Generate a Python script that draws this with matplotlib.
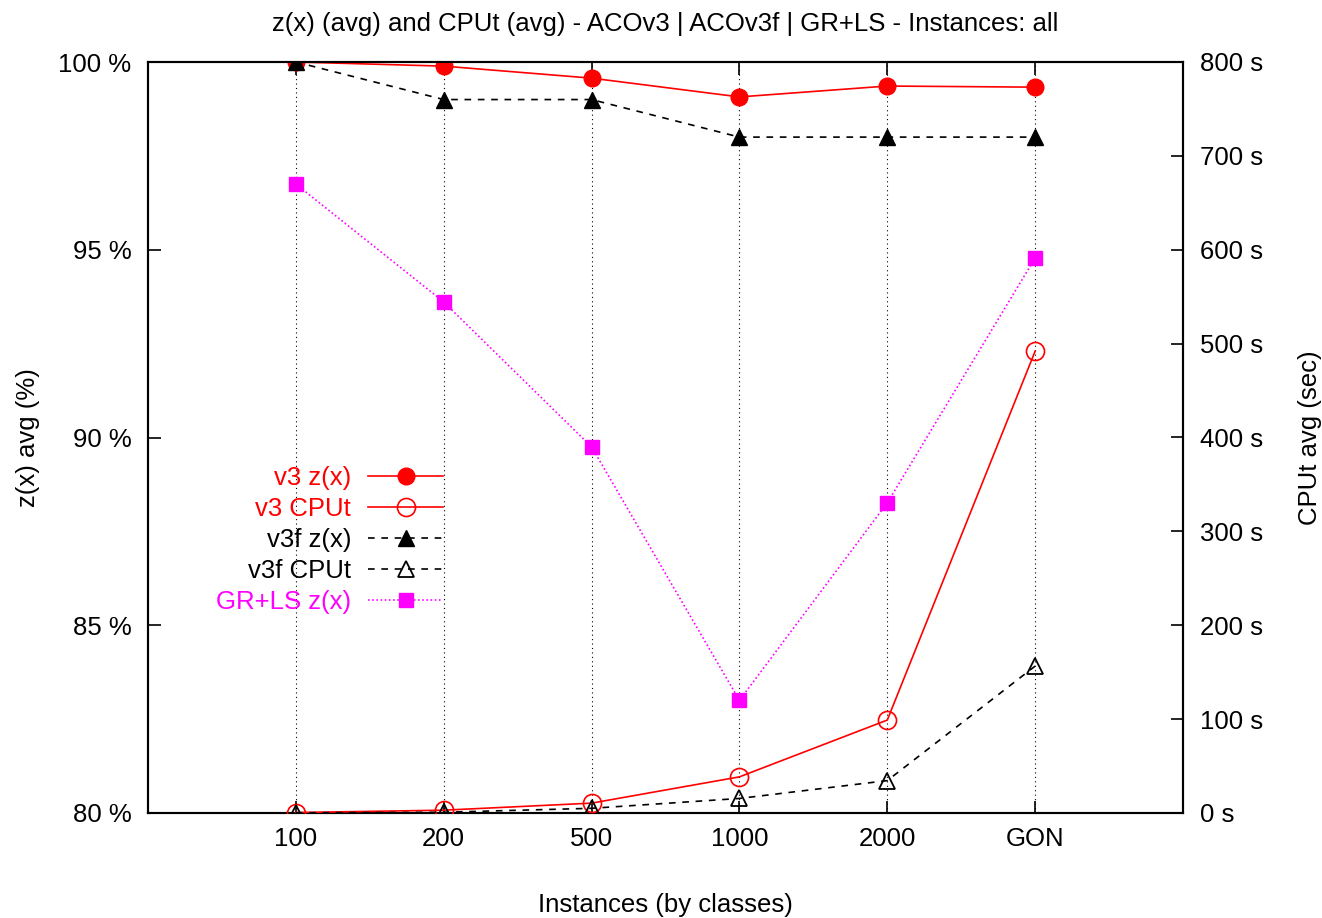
import matplotlib
matplotlib.use("Agg")
import matplotlib.pyplot as plt
from matplotlib.ticker import FuncFormatter

plt.rcParams['font.family'] = ['Liberation Sans', 'DejaVu Sans']

categories = ["100", "200", "500", "1000", "2000", "GON"]
v3_z = [100.0, 99.89, 99.57, 99.07, 99.36, 99.33]
v3f_z = [100.0, 99.0, 99.0, 98.0, 98.0, 98.0]
grls_z = [96.75, 93.61, 89.75, 83.0, 88.26, 94.78]
v3_cpu = [0.5, 3.0, 10.5, 38.5, 99.0, 492.0]
v3f_cpu = [0.2, 0.8, 5.0, 15.5, 34.5, 156.5]

left_ticks = [80, 85, 90, 95, 100]
right_ticks = [0, 100, 200, 300, 400, 500, 600, 700, 800]

fs = 18.5
fig = plt.figure(figsize=(13.22, 9.18), dpi=100)
ax = fig.add_axes([148/1322, 1-813/918, (1183-148)/1322, (813-62)/918])
ax2 = ax.twinx()

xs = list(range(len(categories)))

for x in xs:
    ax.axvline(x, color='black', linestyle=(0, (1, 3)), linewidth=0.8, zorder=0)

dash = (0, (4, 4))
l1, = ax.plot(xs, v3_z, color='red', linewidth=1.2, marker='o', markersize=12,
              markerfacecolor='red', markeredgecolor='red', label='v3 z(x)', zorder=3)
l3, = ax.plot(xs, v3f_z, color='black', linewidth=1.2, linestyle=dash, marker='^',
              markersize=12, markerfacecolor='black', markeredgecolor='black',
              label='v3f z(x)', zorder=3)
l5, = ax.plot(xs, grls_z, color='magenta', linewidth=1.2, linestyle=(0, (1, 1.5)), marker='s',
              markersize=10, markerfacecolor='magenta', markeredgecolor='magenta',
              label='GR+LS z(x)', zorder=3)
l2, = ax2.plot(xs, v3_cpu, color='red', linewidth=1.2, marker='o', markersize=13,
               markerfacecolor='none', markeredgecolor='red', markeredgewidth=1.2,
               label='v3 CPUt', zorder=3)
l4, = ax2.plot(xs, v3f_cpu, color='black', linewidth=1.2, linestyle=dash, marker='^',
               markersize=12, markerfacecolor='none', markeredgecolor='black',
               markeredgewidth=1.3, label='v3f CPUt', zorder=3)

ax.set_xlim(-1, 6)
ax.set_ylim(80, 100)
ax2.set_ylim(0, 800)
ax.set_xticks(xs)
ax.set_xticklabels(categories, fontsize=fs)
ax.set_yticks(left_ticks)
ax.yaxis.set_major_formatter(FuncFormatter(lambda v, p: f"{int(v)} %"))
ax2.set_yticks(right_ticks)
ax2.yaxis.set_major_formatter(FuncFormatter(lambda v, p: f"{int(v)} s"))

ax.tick_params(axis='x', direction='in', length=9, width=1.2, top=True, labelsize=fs, pad=10)
ax.tick_params(axis='y', direction='in', length=9, width=1.2, labelsize=fs, pad=12)
ax2.tick_params(axis='y', direction='in', length=9, width=1.2, labelsize=fs, pad=12)
for a in (ax, ax2):
    for s in a.spines.values():
        s.set_linewidth(1.5)

ax.set_xlabel("Instances (by classes)", fontsize=fs, labelpad=30)
ax.set_ylabel("z(x) avg (%)", fontsize=fs, labelpad=13)
ax2.set_ylabel("CPUt avg (sec)", fontsize=fs, labelpad=25)
ax.set_title("z(x) (avg) and CPUt (avg) - ACOv3 | ACOv3f | GR+LS - Instances: all",
             fontsize=fs, pad=22)

handles = [l1, l2, l3, l4, l5]
leg = ax2.legend(handles=handles, labels=[h.get_label() for h in handles],
                 markerfirst=False, frameon=False, fontsize=fs,
                 labelcolor=['red', 'red', 'black', 'black', 'magenta'],
                 handlelength=2.9, handletextpad=0.68, labelspacing=0.28,
                 loc='center right', bbox_to_anchor=(443/1322, 1-540/918),
                 bbox_transform=fig.transFigure, borderpad=0, borderaxespad=0)

fig.savefig("out.png", dpi=100)
